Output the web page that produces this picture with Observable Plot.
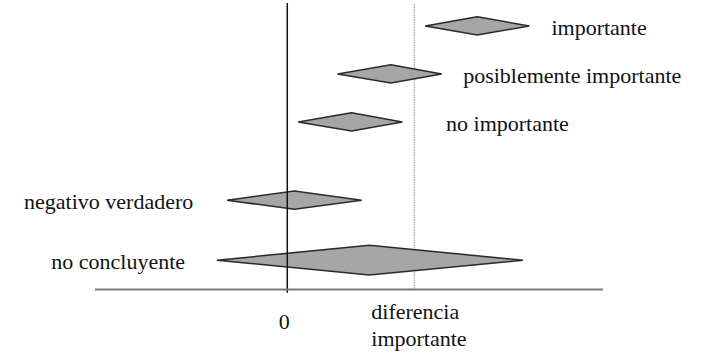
<!DOCTYPE html>
<html>
<head>
<meta charset="utf-8">
<script src="https://cdn.jsdelivr.net/npm/d3@7"></script>
<script src="https://cdn.jsdelivr.net/npm/@observablehq/plot@0.6"></script>
<style>
  html, body { margin: 0; padding: 0; background: #fff; }
  #chart svg { display: block; }
  #chart svg text { font-family: "Liberation Serif", "Times New Roman", serif; }
</style>
</head>
<body>
<div id="chart"></div>
<script>
// Data (x in units of the "important difference"; 0 = no difference)
const labels = ["importante", "posiblemente importante", "no importante", "negativo verdadero", "no concluyente"];
const estimates = [1.50, 0.82, 0.51, 0.06, 0.65];
const lower = [1.09, 0.40, 0.09, -0.47, -0.55];
const upper = [1.91, 1.22, 0.91, 0.59, 1.86];
const rowY = [5.48, 4.48, 3.48, 1.85, 0.6];
const halfHeight = [0.19, 0.19, 0.19, 0.19, 0.31];
const labelX = [2.08, 1.385, 1.25, -0.74, -0.805];
const labelSide = ["right", "right", "right", "left", "left"];
const tickValues = [0, 1];
const tickLabels = ["0", "diferencia\nimportante"];

const rows = labels.map((label, i) => ({
  label, est: estimates[i], lo: lower[i], hi: upper[i], y: rowY[i], h: halfHeight[i],
  lx: labelX[i], side: labelSide[i]
}));

const diamondPts = rows.flatMap(r => [
  {label: r.label, x: r.lo, y1: r.y, y2: r.y},
  {label: r.label, x: r.est, y1: r.y - r.h, y2: r.y + r.h},
  {label: r.label, x: r.hi, y1: r.y, y2: r.y}
]);

const xDomain = [-1.51, 2.49];
const font = "Liberation Serif";

const chart = Plot.plot({
  width: 711,
  height: 360,
  marginLeft: 95,
  marginRight: 108,
  marginTop: 0,
  marginBottom: 0,
  x: {domain: xDomain, range: [95, 603], axis: null},
  y: {domain: [0, 6], range: [289, 1], axis: null},
  style: {background: "#fff"},
  marks: [
    // important-difference reference line (dotted, gray)
    Plot.ruleX([tickValues[1]], {y1: 5.93, y2: 0, stroke: "#8a8a8a", strokeWidth: 1, strokeDasharray: "1.5,1"}),
    // diamonds
    Plot.areaY(diamondPts, {x: "x", y1: "y1", y2: "y2", z: "label", fill: "#a6a6a6", stroke: "#2a2a2a", strokeWidth: 1.5, strokeLinejoin: "miter", curve: "linear"}),
    // zero line
    Plot.ruleX([tickValues[0]], {y1: 5.96, y2: -0.08, stroke: "#111", strokeWidth: 1.5}),
    // horizontal axis line
    Plot.ruleY([0], {x1: xDomain[0], x2: xDomain[1], stroke: "#7a7a7a", strokeWidth: 2}),
    // row labels
    Plot.text(rows.filter(r => r.side === "right"), {x: "lx", y: d => d.y - 0.04, text: "label", textAnchor: "start", fontSize: 22, fontFamily: font, fill: "#111"}),
    Plot.text(rows.filter(r => r.side === "left"), {x: "lx", y: d => d.y - 0.02, text: "label", textAnchor: "end", fontSize: 22, fontFamily: font, fill: "#111"}),
    // tick labels
    Plot.text([tickLabels[0]], {x: tickValues[0], y: -0.68, text: d => d, dx: -3, textAnchor: "middle", fontSize: 22, fontFamily: font, fill: "#111"}),
    Plot.text([tickLabels[1]], {x: tickValues[1], y: -0.22, text: d => d, dx: -43, textAnchor: "start", lineAnchor: "top", lineHeight: 1.23, fontSize: 22, fontFamily: font, fill: "#111"})
  ]
});
document.getElementById("chart").appendChild(chart);
</script>
</body>
</html>
